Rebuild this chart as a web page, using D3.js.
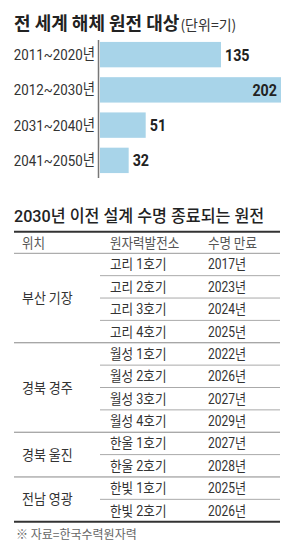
<!DOCTYPE html>
<html>
<head>
<meta charset="utf-8">
<script src="https://cdn.jsdelivr.net/npm/d3@7"></script>
<style>
  body { margin: 0; background: #fff; }
  svg { display: block; }
</style>
</head>
<body>
<script>
var W = 300, H = 547;

// bar chart data
var periods = ["2011~2020년", "2012~2030년", "2031~2040년", "2041~2050년"];
var counts = [135, 202, 51, 32];

// table data
var regionNames = ["부산 기장", "경북 경주", "경북 울진", "전남 영광"];
var regionSizes = [4, 4, 2, 2];
var plants = ["고리 1호기", "고리 2호기", "고리 3호기", "고리 4호기",
              "월성 1호기", "월성 2호기", "월성 3호기", "월성 4호기",
              "한울 1호기", "한울 2호기", "한빛 1호기", "한빛 2호기"];
var expiry = ["2017년", "2023년", "2024년", "2025년",
              "2022년", "2026년", "2027년", "2029년",
              "2027년", "2028년", "2025년", "2026년"];
var headers = ["위치", "원자력발전소", "수명 만료"];

var KR = "'Noto Sans CJK KR', sans-serif";
var MIX = "Roboto, 'Noto Sans CJK KR', sans-serif";

var svg = d3.select("body").append("svg")
    .attr("width", W)
    .attr("height", H);

// squeezed text: the original uses a condensed face
function squeeze(sel, fx, fy, sx) {
    return sel.attr("transform", (d, i) => `translate(${fx(d, i)},${fy(d, i)}) scale(${sx},1)`);
}

// title
var t1 = svg.append("text")
    .attr("x", 14).attr("y", 30)
    .attr("fill", "#222")
    .style("font-family", KR);
t1.append("tspan").text("전 세계 해체 원전 대상")
    .style("font-size", "18px").style("font-weight", "bold");
t1.append("tspan").text("(단위=기)")
    .attr("dx", 1)
    .style("font-size", "14px").attr("fill", "#333");

// bars
var x = d3.scaleLinear([0, 202], [100, 281]);
var y = d3.scaleBand(periods, [37, 178]).paddingInner(0.28).paddingOuter(0.14);

svg.append("line")
    .attr("x1", 98.5).attr("x2", 98.5)
    .attr("y1", 40).attr("y2", 178)
    .attr("stroke", "#777").attr("stroke-width", 1.5);

svg.append("g")
    .selectAll("rect")
    .data(counts)
    .join("rect")
    .attr("x", x(0))
    .attr("y", (d, i) => y(periods[i]))
    .attr("width", d => x(d) - x(0))
    .attr("height", y.bandwidth())
    .attr("fill", "#a8d4e9");

svg.append("g")
    .selectAll("text")
    .data(periods)
    .join("text")
    .call(squeeze, () => 95, d => y(d) + y.bandwidth() / 2 + 5.5, 0.86)
    .attr("text-anchor", "end")
    .attr("fill", "#333")
    .style("font-family", MIX)
    .style("font-size", "15.5px")
    .text(d => d);

var inside = d => x(d) + 30 > W;
svg.append("g")
    .selectAll("text")
    .data(counts)
    .join("text")
    .call(squeeze, d => inside(d) ? x(d) - 4 : x(d) + 4,
        (d, i) => y(periods[i]) + y.bandwidth() / 2 + 6, 0.84)
    .attr("text-anchor", d => inside(d) ? "end" : "start")
    .attr("fill", "#222")
    .style("font-family", MIX)
    .style("font-size", "17px")
    .style("font-weight", "bold")
    .text(d => d);

// table title
svg.append("text")
    .call(squeeze, () => 14, () => 222, 0.98)
    .attr("fill", "#222")
    .style("font-family", MIX)
    .style("font-size", "16.5px")
    .style("font-weight", "500")
    .text("2030년 이전 설계 수명 종료되는 원전");

var left = 14, right = 280;
var colX = [22, 110, 208];
var headTop = 231.7, headBottom = 253.3, tableBottom = 521.7;

var row = d3.scaleBand(d3.range(plants.length), [headBottom, tableBottom]);

svg.append("g")
    .selectAll("text")
    .data(headers)
    .join("text")
    .call(squeeze, (d, i) => colX[i], () => (headTop + headBottom) / 2 + 5, 0.93)
    .attr("fill", "#555")
    .style("font-family", KR)
    .style("font-size", "13.5px")
    .text(d => d);

// row lines
var starts = d3.cumsum([0].concat(regionSizes.slice(0, -1)));
var lineRows = d3.range(1, plants.length);
svg.append("g")
    .selectAll("line")
    .data(lineRows)
    .join("line")
    .attr("x1", d => starts.includes(d) ? left : 100)
    .attr("x2", right)
    .attr("y1", d => row(d))
    .attr("y2", d => row(d))
    .attr("stroke", d => starts.includes(d) ? "#888" : "#aaa")
    .attr("stroke-width", 1);

svg.append("line")
    .attr("x1", left).attr("x2", right)
    .attr("y1", headBottom).attr("y2", headBottom)
    .attr("stroke", "#999").attr("stroke-width", 1);

svg.append("g")
    .selectAll("line")
    .data([headTop, tableBottom])
    .join("line")
    .attr("x1", left).attr("x2", right)
    .attr("y1", d => d).attr("y2", d => d)
    .attr("stroke", "#333").attr("stroke-width", 2);

svg.append("g")
    .selectAll("text")
    .data(regionNames)
    .join("text")
    .call(squeeze, () => colX[0],
        (d, i) => row(starts[i]) + row.bandwidth() * regionSizes[i] / 2 + 5, 0.93)
    .attr("fill", "#333")
    .style("font-family", KR)
    .style("font-size", "14px")
    .text(d => d);

svg.append("g")
    .selectAll("text")
    .data(plants)
    .join("text")
    .call(squeeze, () => colX[1], (d, i) => row(i) + row.bandwidth() / 2 + 5, 0.9)
    .attr("fill", "#333")
    .style("font-family", MIX)
    .style("font-size", "14px")
    .text(d => d);

svg.append("g")
    .selectAll("text")
    .data(expiry)
    .join("text")
    .call(squeeze, () => colX[2], (d, i) => row(i) + row.bandwidth() / 2 + 5, 0.86)
    .attr("fill", "#333")
    .style("font-family", MIX)
    .style("font-size", "14px")
    .text(d => d);

// source
svg.append("text")
    .attr("x", 16).attr("y", 539)
    .attr("fill", "#666")
    .style("font-family", KR)
    .style("font-size", "12px")
    .text("※ 자료=한국수력원자력");
</script>
</body>
</html>
